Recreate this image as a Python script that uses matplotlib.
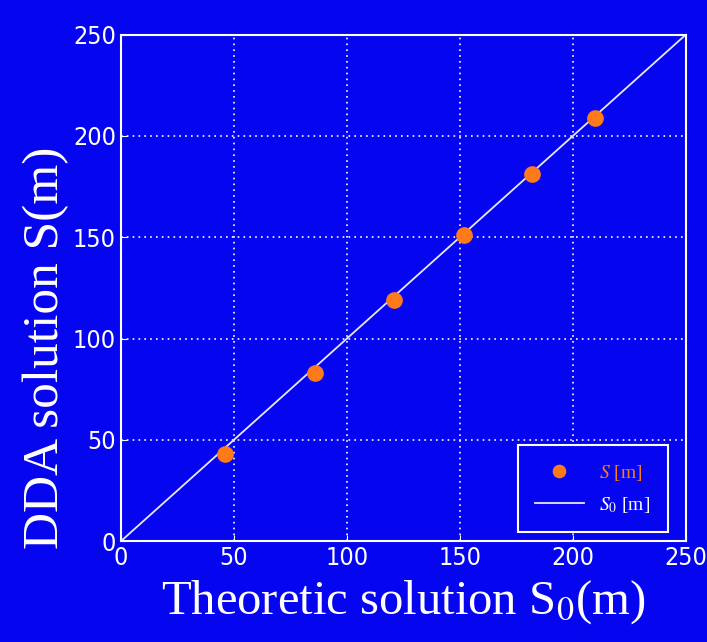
import matplotlib
matplotlib.use("Agg")
import matplotlib.pyplot as plt

plt.rcParams['mathtext.fontset'] = 'stix'

# DDA vs theoretic solution
s0 = [46, 86, 121, 152, 182, 210]
s = [43, 83, 119, 151, 181, 209]
line_x = [0, 250]
ticks = [0, 50, 100, 150, 200, 250]

blue = '#0505f0'
orange = '#ff7a1a'

fig = plt.figure(figsize=(7.07, 6.42), dpi=100, facecolor=blue)
ax = fig.add_axes([0.171, 0.157, 0.799, 0.789], facecolor=blue)

ax.plot(line_x, line_x, color='#e8e8ff', lw=1.3, label=r'$S_0$ [m]', zorder=2)
ax.plot(s0, s, 'o', color=orange, ms=11, label=r'$S$ [m]', zorder=3)

ax.set_xlim(0, 250)
ax.set_ylim(0, 250)
ax.set_xticks(ticks)
ax.set_yticks(ticks)
ax.grid(True, color='white', ls=(0, (1, 2.5)), lw=1.2)
for sp in ax.spines.values():
    sp.set_color('white')
    sp.set_linewidth(1.5)
ax.tick_params(colors='white', labelsize=18, length=4, direction='in')
for lab in ax.get_xticklabels() + ax.get_yticklabels():
    lab.set_family(['DejaVu Sans Condensed', 'DejaVu Sans'])
    lab.set_stretch('condensed')

ax.set_xlabel('Theoretic solution S$_0$(m)', family='Liberation Serif',
              fontsize=35, color='white', labelpad=6)
ax.set_ylabel('DDA solution S(m)', family='Liberation Serif',
              fontsize=37, color='white')
ax.yaxis.set_label_coords(-0.092, 0.381)

h, l = ax.get_legend_handles_labels()
leg = ax.legend(h[::-1], l[::-1], loc='lower right', bbox_to_anchor=(0.968, 0.018),
                borderaxespad=0,
                facecolor=blue, edgecolor='white', fancybox=False, framealpha=1,
                prop={'family': 'Liberation Serif', 'size': 14},
                borderpad=0.9, handlelength=2.5, labelspacing=0.6, markerscale=0.8)
leg.get_frame().set_linewidth(1.5)
leg.get_texts()[0].set_color(orange)
leg.get_texts()[1].set_color('white')

fig.savefig('out.png', dpi=100, facecolor=blue)
